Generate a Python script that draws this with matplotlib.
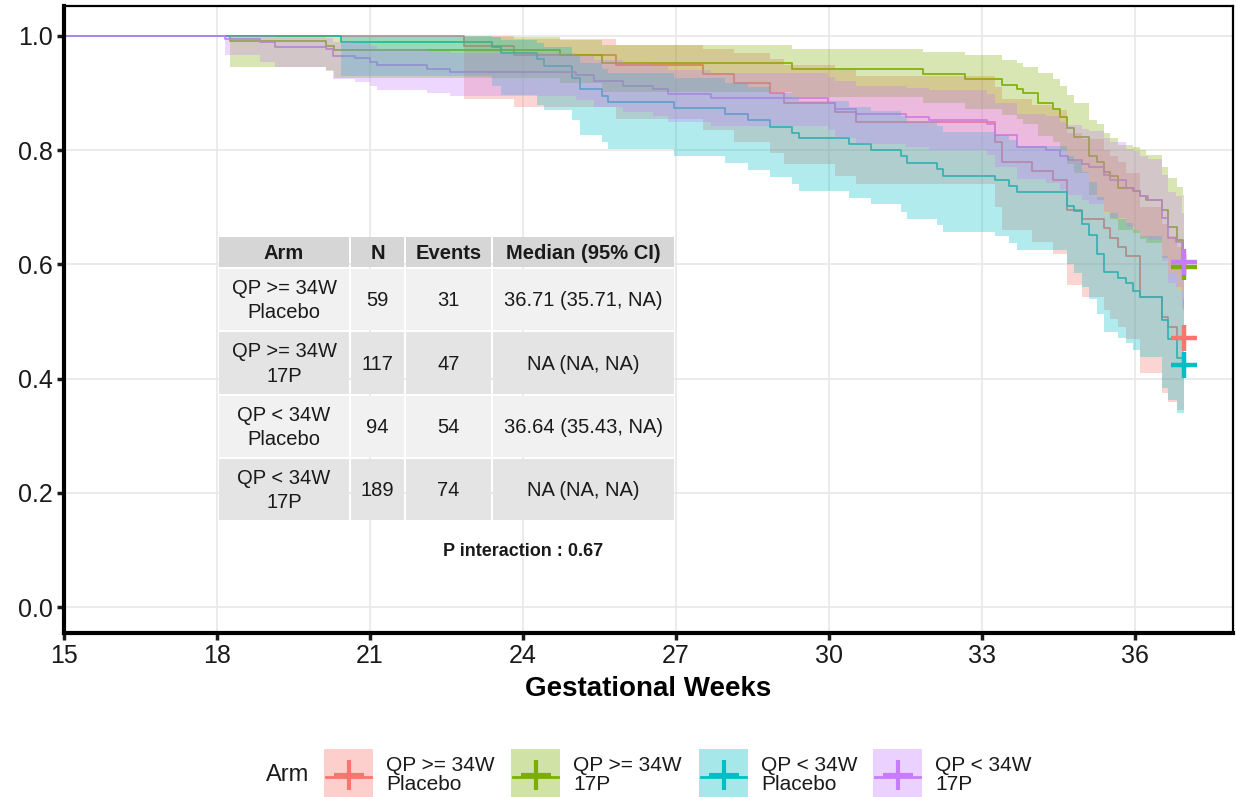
import matplotlib
matplotlib.use('Agg')
import matplotlib.pyplot as plt
from matplotlib.patches import Rectangle

plt.rcParams['font.family'] = ['Liberation Sans', 'DejaVu Sans']

# Arms, colours and summary table values.
arms = ['QP >= 34W\nPlacebo', 'QP >= 34W\n17P', 'QP < 34W\nPlacebo', 'QP < 34W\n17P']
colors = ['#F8766D', '#7CAE00', '#00BFC4', '#C77CFF']
table_n = [59, 117, 94, 189]
table_events = [31, 47, 54, 74]
table_median = ['36.71 (35.71, NA)', 'NA (NA, NA)', '36.64 (35.43, NA)', 'NA (NA, NA)']
table_header = ['Arm', 'N', 'Events', 'Median (95% CI)']
p_text = 'P interaction : 0.67'
end_time = 36.97

# QP >= 34W Placebo
red_t = [15, 22.85, 23.83, 25.83, 27.53, 28.14, 28.84, 29.13, 30.12, 30.54,
         33.26, 33.39, 33.98, 34.40, 34.68, 34.96, 35.40, 35.52, 35.68, 35.83,
         36.10, 36.53, 36.66, 36.83]
red_s = [1, 0.983, 0.967, 0.950, 0.934, 0.918, 0.900, 0.882, 0.866, 0.850,
         0.815, 0.780, 0.764, 0.748, 0.695, 0.679, 0.663, 0.647, 0.631, 0.614,
         0.543, 0.508, 0.491, 0.471]
red_lo = [1, 0.889, 0.875, 0.855, 0.835, 0.815, 0.795, 0.775, 0.755, 0.740,
          0.700, 0.660, 0.640, 0.618, 0.564, 0.543, 0.520, 0.505, 0.490, 0.470,
          0.409, 0.375, 0.359, 0.345]
red_hi = [1, 1.0, 0.995, 0.985, 0.978, 0.970, 0.960, 0.950, 0.940, 0.930,
          0.910, 0.890, 0.880, 0.870, 0.830, 0.820, 0.800, 0.790, 0.780, 0.760,
          0.700, 0.670, 0.650, 0.630]

# QP >= 34W 17P
green_t = [15, 18.26, 20.13, 20.29, 24.72, 25.56, 29.28, 31.84, 32.68, 33.39,
           33.70, 33.82, 34.11, 34.40, 34.53, 34.68, 34.82, 35.11, 35.26, 35.40,
           35.52, 35.68, 35.96, 36.10, 36.23, 36.53, 36.66, 36.83, 36.95]
green_s = [1, 0.991, 0.983, 0.975, 0.967, 0.952, 0.943, 0.933, 0.924, 0.915,
           0.908, 0.900, 0.882, 0.873, 0.858, 0.838, 0.823, 0.789, 0.780, 0.762,
           0.754, 0.733, 0.729, 0.719, 0.713, 0.695, 0.666, 0.643, 0.596]
green_lo = [1, 0.945, 0.939, 0.926, 0.918, 0.902, 0.893, 0.882, 0.872, 0.862,
            0.854, 0.845, 0.825, 0.815, 0.798, 0.775, 0.760, 0.722, 0.712, 0.690,
            0.680, 0.660, 0.655, 0.645, 0.638, 0.612, 0.585, 0.555, 0.520]
green_hi = [1, 1.0, 1.0, 0.998, 0.993, 0.985, 0.978, 0.972, 0.966, 0.958,
            0.952, 0.946, 0.935, 0.925, 0.912, 0.897, 0.882, 0.853, 0.845, 0.830,
            0.822, 0.809, 0.805, 0.800, 0.792, 0.770, 0.752, 0.735, 0.722]

# QP < 34W Placebo
cyan_t = [15, 20.44, 23.40, 23.57, 24.28, 24.42, 24.97, 25.13, 25.56, 25.68,
          26.97, 27.97, 28.41, 28.84, 29.28, 29.41, 30.39, 30.82, 31.41, 31.54,
          32.13, 32.24, 33.26, 33.54, 33.70, 34.68, 34.82, 34.96, 35.11, 35.26,
          35.40, 35.68, 35.83, 35.96, 36.10, 36.53, 36.66, 36.83, 36.94]
cyan_s = [1, 0.990, 0.981, 0.970, 0.959, 0.948, 0.926, 0.907, 0.895, 0.885,
          0.874, 0.863, 0.853, 0.841, 0.830, 0.822, 0.810, 0.800, 0.790, 0.778,
          0.767, 0.755, 0.748, 0.737, 0.726, 0.703, 0.693, 0.671, 0.651, 0.618,
          0.587, 0.576, 0.567, 0.554, 0.543, 0.503, 0.469, 0.436, 0.424]
cyan_lo = [1, 0.930, 0.912, 0.897, 0.880, 0.870, 0.853, 0.827, 0.815, 0.802,
           0.790, 0.777, 0.765, 0.753, 0.741, 0.729, 0.716, 0.705, 0.692, 0.679,
           0.669, 0.657, 0.649, 0.637, 0.625, 0.600, 0.585, 0.560, 0.540, 0.514,
           0.482, 0.471, 0.462, 0.450, 0.438, 0.383, 0.362, 0.339, 0.339]
cyan_hi = [1, 1.0, 0.998, 0.993, 0.987, 0.980, 0.965, 0.952, 0.943, 0.935,
           0.927, 0.918, 0.910, 0.901, 0.892, 0.886, 0.876, 0.868, 0.860, 0.850,
           0.842, 0.832, 0.826, 0.817, 0.808, 0.790, 0.781, 0.762, 0.745, 0.718,
           0.690, 0.680, 0.672, 0.660, 0.650, 0.615, 0.585, 0.555, 0.540]

# QP < 34W 17P
purple_t = [15, 18.15, 18.85, 19.13, 20.13, 20.27, 20.70, 21.0, 21.14, 22.12,
            22.57, 25.05, 25.40, 25.97, 26.56, 26.84, 27.69, 29.98, 30.12, 30.54,
            31.52, 31.97, 33.10, 33.26, 33.70, 34.27, 34.53, 34.69, 34.96, 35.11,
            35.39, 35.52, 35.83, 35.98, 36.10, 36.26, 36.53, 36.66, 36.81, 36.93]
purple_s = [1, 0.995, 0.990, 0.981, 0.977, 0.965, 0.961, 0.955, 0.949, 0.943,
            0.937, 0.932, 0.921, 0.913, 0.908, 0.898, 0.891, 0.883, 0.873, 0.863,
            0.858, 0.853, 0.846, 0.827, 0.806, 0.800, 0.790, 0.783, 0.775, 0.770,
            0.757, 0.748, 0.733, 0.729, 0.719, 0.713, 0.681, 0.646, 0.640, 0.605]
purple_lo = [1, 0.967, 0.955, 0.945, 0.940, 0.925, 0.920, 0.912, 0.905, 0.901,
             0.895, 0.888, 0.876, 0.866, 0.860, 0.850, 0.843, 0.835, 0.822, 0.811,
             0.806, 0.800, 0.792, 0.770, 0.750, 0.742, 0.730, 0.722, 0.712, 0.706,
             0.692, 0.682, 0.665, 0.660, 0.648, 0.642, 0.606, 0.568, 0.561, 0.525]
purple_hi = [1, 1.0, 1.0, 0.998, 0.996, 0.990, 0.987, 0.983, 0.978, 0.974,
             0.970, 0.966, 0.958, 0.952, 0.948, 0.940, 0.935, 0.929, 0.921, 0.913,
             0.909, 0.905, 0.899, 0.883, 0.864, 0.859, 0.850, 0.844, 0.837, 0.833,
             0.822, 0.815, 0.802, 0.799, 0.790, 0.785, 0.757, 0.726, 0.720, 0.690]

curves = [(red_t, red_s, red_lo, red_hi), (green_t, green_s, green_lo, green_hi),
          (cyan_t, cyan_s, cyan_lo, cyan_hi), (purple_t, purple_s, purple_lo, purple_hi)]

W, H = 1236, 797
fig = plt.figure(figsize=(W / 100, H / 100), dpi=100)
ax = fig.add_axes([64 / W, 1 - 633 / H, (1233 - 64) / W, (633 - 6) / H])

# Step lines first, then the bands over them, then the censor marks.
for (t, s, lo, hi), c in zip(curves, colors):
    ax.step(t + [end_time], s + [s[-1]], where='post', color=c, lw=1.2, zorder=2)
for (t, s, lo, hi), c in zip(curves, colors):
    ax.fill_between(t + [end_time], lo + [lo[-1]], hi + [hi[-1]], step='post',
                    color=c, alpha=0.3, lw=0, zorder=3)
for (t, s, lo, hi), c in zip(curves, colors):
    ax.plot([end_time], [s[-1]], marker='+', color=c, ms=19, mew=3.2, zorder=4)

ax.set_xlim(15, 37.93)
ax.set_ylim(-0.0455, 1.0525)
ax.set_xticks(range(15, 37, 3))
ax.set_yticks([0, 0.2, 0.4, 0.6, 0.8, 1.0])
ax.set_yticklabels(['0.0', '0.2', '0.4', '0.6', '0.8', '1.0'])
ax.grid(True, color='#e8e8e8', lw=1.2, zorder=0)
ax.set_axisbelow(True)
ax.tick_params(labelsize=18, colors='#1a1a1a', length=5, width=2.5, pad=3)
for side in ['left', 'bottom']:
    ax.spines[side].set_linewidth(3)
for side in ['top', 'right']:
    ax.spines[side].set_linewidth(1.6)
ax.set_xlabel('Gestational Weeks', fontsize=20, fontweight='bold', labelpad=6)

# Overlay in pixel coordinates for the table and the legend.
ov = fig.add_axes([0, 0, 1, 1], zorder=5)
ov.set_xlim(0, W)
ov.set_ylim(H, 0)
ov.axis('off')
ov.patch.set_alpha(0)

cx = [218, 350, 405, 492, 675]
ry = [236, 268, 331, 395, 458, 521]
row_fill = ['#d6d6d6', '#f1f1f1', '#e4e4e4', '#f1f1f1', '#e4e4e4']
rows = [table_header] + [[a, str(n), str(e), m] for a, n, e, m in
                         zip(arms, table_n, table_events, table_median)]
for r, row in enumerate(rows):
    for c, txt in enumerate(row):
        ov.add_patch(Rectangle((cx[c] + 1, ry[r] + 1), cx[c + 1] - cx[c] - 2,
                               ry[r + 1] - ry[r] - 2, facecolor=row_fill[r], lw=0))
        ov.text((cx[c] + cx[c + 1]) / 2, (ry[r] + ry[r + 1]) / 2 + 1, txt,
                ha='center', va='center', fontsize=14.5, color='#1a1a1a',
                fontweight='bold' if r == 0 else 'normal', linespacing=1.35)
ov.text(523, 551, p_text, ha='center', va='center', fontsize=13,
        fontweight='bold', color='#1a1a1a')

# Legend along the bottom edge.
ov.text(266, 775, 'Arm', ha='left', va='center', fontsize=17, color='#1a1a1a')
key_x = [324, 511, 699, 873]
for kx, c, lab in zip(key_x, colors, arms):
    ov.add_patch(Rectangle((kx, 749), 49, 60, facecolor=c, alpha=0.35, lw=0))
    ov.plot([kx + 2, kx + 47], [777, 777], color=c, lw=2)
    ov.plot([kx + 24.5], [775], marker='+', color=c, ms=21, mew=3)
    ov.text(kx + 62, 775, lab, ha='left', va='center', fontsize=15,
            color='#1a1a1a', linespacing=1.05)

fig.savefig('out.png', dpi=100)
